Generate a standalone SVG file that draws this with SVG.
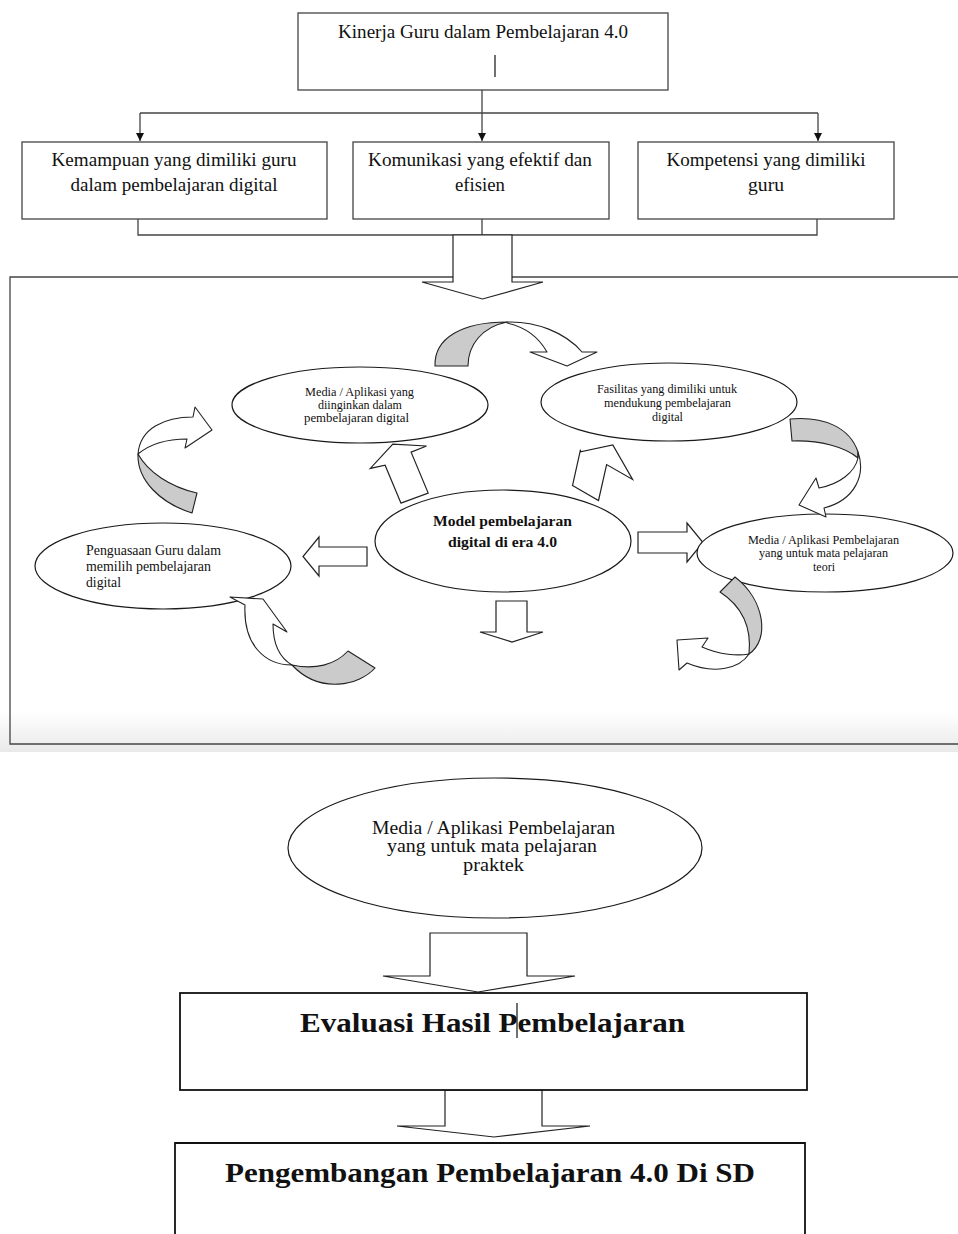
<svg xmlns="http://www.w3.org/2000/svg" width="958" height="1234" viewBox="0 0 958 1234">
<style>
.t{font-family:"Liberation Serif","Times New Roman",serif;fill:#111}
.b{font-weight:bold}
.box{fill:#fff;stroke:#444;stroke-width:1.3}
.box2{fill:#fff;stroke:#111;stroke-width:1.8}
.ell{fill:#fff;stroke:#1a1a1a;stroke-width:1.2}
.blk{fill:#fff;stroke:#222;stroke-width:1.2;stroke-linejoin:miter}
.gr{fill:#cbcbcb;stroke:#222;stroke-width:1.1;stroke-linejoin:round}
.wh{fill:#fff;stroke:#222;stroke-width:1.1;stroke-linejoin:round}
.ln{fill:none;stroke:#444;stroke-width:1.3}
.cur{stroke:#111;stroke-width:1.2}
</style>
<defs>
<marker id="ah" viewBox="0 0 8 8" refX="8" refY="4" markerWidth="8" markerHeight="8" markerUnits="userSpaceOnUse" orient="auto">
<path d="M0,0 L8,4 L0,8 Z" fill="#111"/>
</marker>
<linearGradient id="band" x1="0" y1="0" x2="0" y2="1">
<stop offset="0" stop-color="#ffffff"/>
<stop offset="1" stop-color="#e9e9e9"/>
</linearGradient>
</defs>
<rect width="958" height="1234" fill="#fff"/>
<rect x="0" y="712" width="958" height="40" fill="url(#band)"/>

<g id="frame">
<path class="ln" d="M453,277 H10 V744 H960 M512,277 H960"/>
</g>

<g id="connectors">
<path class="ln" d="M482,90 V113 M140,113 H818"/>
<path class="ln" d="M140,113 V141" marker-end="url(#ah)"/>
<path class="ln" d="M482,113 V141" marker-end="url(#ah)"/>
<path class="ln" d="M818,113 V141" marker-end="url(#ah)"/>
<path class="ln" d="M138,219 V235 H817 V219 M482,219 V235"/>
<polygon class="blk" points="453,235 512,235 512,282 543,282 482.5,299 422,282 453,282"/>
<polygon class="blk" points="400.9,503.1 428.2,493.1 411.1,452.2 426.6,446 392.8,444.1 370.3,468.4 385.1,465.2" />
<polygon class="blk" points="572.5,485.6 598.5,500.5 606.6,464.6 632.6,479.5 612.8,445 580.6,451.8 580.5,449.7"/>
<polygon class="blk" points="367,547 319,547 319,537 303,556.5 319,576 319,566 367,566"/>
<polygon class="blk" points="638,532 687,532 687,523 703,542.5 687,562 687,553 638,553"/>
<polygon class="blk" points="496,601 527,601 527,632 543,632 512,642 480,632 496,632"/>
<polygon class="blk" points="430,933 527,933 527,976 575,976 478,992 383,976 430,976"/>
<polygon class="blk" points="445,1090 542,1090 542,1126 590,1126 494,1137 397,1126 445,1126"/>
</g>

<g id="n-kinerja">
<rect class="box" x="298" y="13" width="370" height="77"/>
<text class="t" x="483" y="38" font-size="18" text-anchor="middle" textLength="290" lengthAdjust="spacingAndGlyphs">Kinerja Guru dalam Pembelajaran 4.0</text>
<line class="cur" x1="495" y1="55" x2="495" y2="77"/>
</g>

<g id="n-kemampuan">
<rect class="box" x="22" y="142" width="305" height="77"/>
<text class="t" x="174" y="166" font-size="19" text-anchor="middle" textLength="245" lengthAdjust="spacingAndGlyphs">Kemampuan yang dimiliki guru</text>
<text class="t" x="174" y="191" font-size="19" text-anchor="middle" textLength="207" lengthAdjust="spacingAndGlyphs">dalam pembelajaran digital</text>
</g>

<g id="n-komunikasi">
<rect class="box" x="353" y="142" width="256" height="77"/>
<text class="t" x="480" y="166" font-size="19" text-anchor="middle" textLength="224" lengthAdjust="spacingAndGlyphs">Komunikasi yang efektif dan</text>
<text class="t" x="480" y="191" font-size="19" text-anchor="middle" textLength="50" lengthAdjust="spacingAndGlyphs">efisien</text>
</g>

<g id="n-kompetensi">
<rect class="box" x="638" y="142" width="256" height="77"/>
<text class="t" x="766" y="166" font-size="19" text-anchor="middle" textLength="199" lengthAdjust="spacingAndGlyphs">Kompetensi yang dimiliki</text>
<text class="t" x="766" y="191" font-size="19" text-anchor="middle" textLength="36" lengthAdjust="spacingAndGlyphs">guru</text>
</g>

<g id="n-media-diinginkan">
<ellipse class="ell" cx="360" cy="405" rx="128" ry="38"/>
<text class="t" x="359.5" y="396" font-size="12" text-anchor="middle" textLength="109" lengthAdjust="spacingAndGlyphs">Media / Aplikasi yang</text>
<text class="t" x="360" y="409" font-size="12" text-anchor="middle" textLength="84" lengthAdjust="spacingAndGlyphs">diinginkan dalam</text>
<text class="t" x="356.5" y="422" font-size="12" text-anchor="middle" textLength="105" lengthAdjust="spacingAndGlyphs">pembelajaran digital</text>
</g>

<g id="n-fasilitas">
<ellipse class="ell" cx="669" cy="402" rx="128" ry="39"/>
<text class="t" x="667" y="393" font-size="12" text-anchor="middle" textLength="140" lengthAdjust="spacingAndGlyphs">Fasilitas yang dimiliki untuk</text>
<text class="t" x="667.5" y="407" font-size="12" text-anchor="middle" textLength="127" lengthAdjust="spacingAndGlyphs">mendukung pembelajaran</text>
<text class="t" x="667.5" y="421" font-size="12" text-anchor="middle" textLength="31" lengthAdjust="spacingAndGlyphs">digital</text>
</g>

<g id="n-model">
<ellipse class="ell" cx="503" cy="541" rx="128" ry="51"/>
<text class="t b" x="502.5" y="526" font-size="15" text-anchor="middle" textLength="139" lengthAdjust="spacingAndGlyphs">Model pembelajaran</text>
<text class="t b" x="502.5" y="547" font-size="15" text-anchor="middle" textLength="109" lengthAdjust="spacingAndGlyphs">digital di era 4.0</text>
</g>

<g id="n-media-teori">
<ellipse class="ell" cx="825" cy="553" rx="128" ry="39"/>
<text class="t" x="823.5" y="544" font-size="12" text-anchor="middle" textLength="151" lengthAdjust="spacingAndGlyphs">Media / Aplikasi Pembelajaran</text>
<text class="t" x="823.5" y="557" font-size="12" text-anchor="middle" textLength="129" lengthAdjust="spacingAndGlyphs">yang untuk mata pelajaran</text>
<text class="t" x="824" y="571" font-size="12" text-anchor="middle" textLength="22" lengthAdjust="spacingAndGlyphs">teori</text>
</g>

<g id="n-penguasaan">
<ellipse class="ell" cx="163" cy="566" rx="128" ry="43"/>
<text class="t" x="86" y="555" font-size="14" textLength="135" lengthAdjust="spacingAndGlyphs">Penguasaan Guru dalam</text>
<text class="t" x="86" y="571" font-size="14" textLength="125" lengthAdjust="spacingAndGlyphs">memilih pembelajaran</text>
<text class="t" x="86" y="587" font-size="14" textLength="35" lengthAdjust="spacingAndGlyphs">digital</text>
</g>

<g id="curved-arrows">
<path class="gr" d="M435,366 C434,338 462,322 507,322 C482,327 468,345 468,366 Z"/>
<path class="wh" d="M507,322 C535,321 565,332 582,352 L597,352 L567,366 L530,352 L547,352 C538,336 525,327 507,323 Z"/>
<path class="gr" d="M790,419 C825,416 850,428 858,452 L858,458 C845,447 820,440 792,441 Z"/>
<path class="wh" d="M858,452 C866,475 855,500 824,508 L826,517 L799,505 L816,478 L819,488 C840,484 855,472 858,458 Z"/>
<path class="gr" d="M735,577 C765,600 770,640 749,654 C752,625 740,605 720,592 Z"/>
<path class="wh" d="M749,654 C740,668 715,675 687,663 L679,670 L677,640 L708,638 L702,647 C720,655 738,656 749,654 Z"/>
<path class="gr" d="M192,513 C160,503 137,480 138,454 C148,472 170,487 197,493 Z"/>
<path class="wh" d="M138,454 C140,428 165,417 193,417 L195,407 L212,430 L185,448 L187,439 C165,439 150,444 138,454 Z"/>
<path class="wh" d="M245,605 L230,597 L263,599 L287,632 L273,624 C273,645 280,658 292,665 C265,665 243,645 245,605 Z"/>
<path class="gr" d="M292,665 C315,670 335,665 348,651 L375,668 C360,685 320,695 292,665 Z"/>
</g>

<g id="n-media-praktek">
<ellipse class="ell" cx="495" cy="848" rx="207" ry="70"/>
<text class="t" x="493.5" y="834" font-size="18" text-anchor="middle" textLength="243" lengthAdjust="spacingAndGlyphs">Media / Aplikasi Pembelajaran</text>
<text class="t" x="492" y="852" font-size="18" text-anchor="middle" textLength="210" lengthAdjust="spacingAndGlyphs">yang untuk mata pelajaran</text>
<text class="t" x="493.5" y="871" font-size="18" text-anchor="middle" textLength="61" lengthAdjust="spacingAndGlyphs">praktek</text>
</g>

<g id="n-evaluasi">
<rect class="box2" x="180" y="993" width="627" height="97"/>
<text class="t b" x="492.5" y="1032" font-size="28" text-anchor="middle" textLength="385" lengthAdjust="spacingAndGlyphs">Evaluasi Hasil Pembelajaran</text>
<line class="cur" x1="517" y1="1003" x2="517" y2="1038"/>
</g>

<g id="n-pengembangan">
<path class="box2" d="M175,1240 V1143 H805 V1240"/>
<text class="t b" x="490" y="1182" font-size="28" text-anchor="middle" textLength="530" lengthAdjust="spacingAndGlyphs">Pengembangan Pembelajaran 4.0 Di SD</text>
</g>
</svg>
